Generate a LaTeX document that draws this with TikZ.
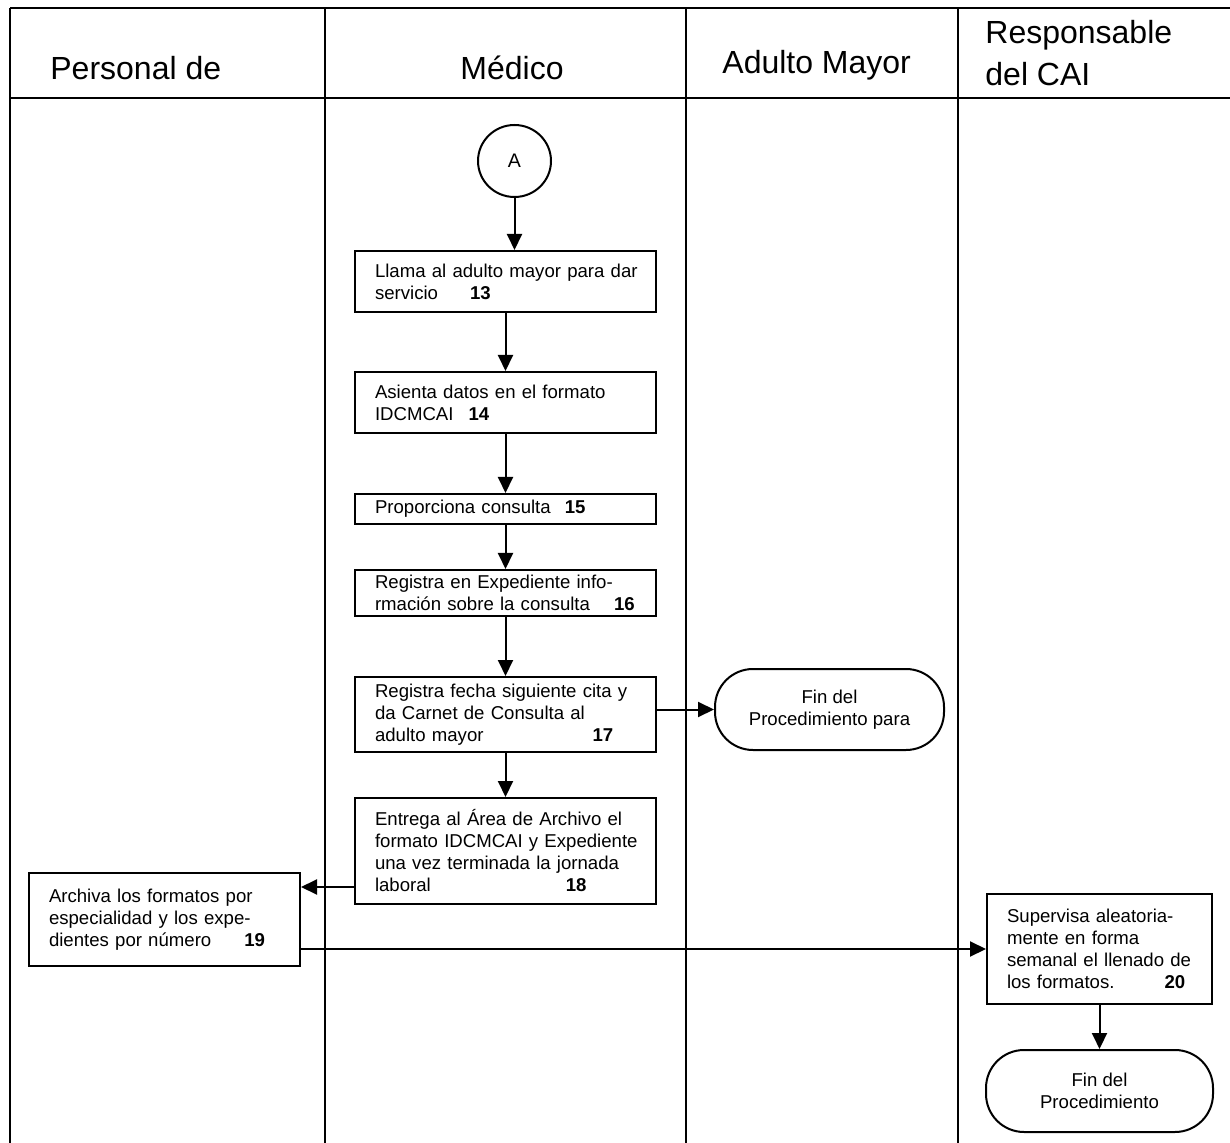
\documentclass[tikz,border=0pt]{standalone}
\usepackage{fontspec}
\setmainfont{Liberation Sans}
\usetikzlibrary{arrows.meta,shapes.geometric}
\begin{document}
\begin{tikzpicture}[x=0.5pt,y=-0.5pt,
  lane/.style={line width=0.9pt},
  head/.style={font=\fontsize{16}{21}\selectfont, inner sep=0pt, anchor=base west, align=left},
  proc/.style={draw, line width=1pt, rectangle, inner xsep=10pt, inner ysep=0pt,
    align=left, font=\fontsize{9.3}{11}\selectfont},
  term/.style={draw, line width=1pt, rectangle, rounded corners=19pt, align=center,
    font=\fontsize{9.3}{11}\selectfont},
  conn/.style={draw, ellipse, line width=1pt, font=\fontsize{9.8}{11}\selectfont},
  arr/.style={line width=1pt, -{Triangle[length=8pt,width=7.5pt]}}]
\useasboundingbox (0,0) rectangle (1230,1143);
% swimlane grid
\draw[lane] (10,8) -- (1230,8);
\draw[lane] (10,98) -- (1230,98);
\draw[lane] (10,8) -- (10,1143);
\draw[lane] (325,8) -- (325,1143);
\draw[lane] (686,8) -- (686,1143);
\draw[lane] (958,8) -- (958,1143);
% headers
\node[head] (h1) at (50,80) {Personal de};
\node[head] (h2) at (460,80) {Médico};
\node[head] (h3) at (722,74) {Adulto Mayor};
\node[head] (h4) at (985,86) {Responsable\\del CAI};
% nodes
\node[conn, minimum width=36.5pt, minimum height=36pt] (A) at (514.5,161) {A};
\node[proc, minimum width=150.5pt, minimum height=30.5pt, text width=130.5pt] (b13) at (505.5,281.5)
  {\mbox{Llama al adulto mayor para dar}\\servicio\hspace{16pt}\textbf{13}};
\node[proc, minimum width=150.5pt, minimum height=30.5pt, text width=130.5pt] (b14) at (505.5,402.5)
  {Asienta datos en el formato\\IDCMCAI\hspace{7.5pt}\textbf{14}};
\node[proc, minimum width=150.5pt, minimum height=15pt, text width=130.5pt] (b15) at (505.5,509)
  {\mbox{Proporciona consulta\hspace{7pt}\textbf{15}}};
\node[proc, minimum width=150.5pt, minimum height=23pt, text width=130.5pt] (b16) at (505.5,593)
  {\mbox{Registra en Expediente info-}\\\mbox{rmación sobre la consulta\hspace{12pt}\textbf{16}}};
\node[proc, minimum width=150.5pt, minimum height=37.5pt, text width=130.5pt] (b17) at (505.5,714.5)
  {Registra fecha siguiente cita y\\da Carnet de Consulta al\\\mbox{adulto mayor\hspace{54.5pt}\textbf{17}}};
\node[proc, minimum width=150.5pt, minimum height=53pt, text width=130.5pt] (b18) at (505.5,851)
  {\mbox{Entrega al Área de Archivo el}\\\mbox{formato IDCMCAI y Expediente}\\\mbox{una vez terminada la jornada}\\\mbox{laboral\hspace{67.5pt}\textbf{18}}};
\node[proc, minimum width=135.5pt, minimum height=46.5pt, text width=115.5pt] (b19) at (164.5,919.5)
  {\mbox{Archiva los formatos por}\\\mbox{especialidad y los expe-}\\\mbox{dientes por número\hspace{16.5pt}\textbf{19}}};
\node[proc, minimum width=112.5pt, minimum height=55pt, text width=92.5pt] (b20) at (1099.5,949)
  {\mbox{Supervisa aleatoria-}\\\mbox{mente en forma}\\\mbox{semanal el llenado de}\\\mbox{los formatos.\hspace{25pt}\textbf{20}}};
\node[term, minimum width=114.5pt, minimum height=40.5pt] (fin1) at (829.5,709.5)
  {Fin del\\Procedimiento para};
\node[term, minimum width=113.5pt, minimum height=41pt] (fin2) at (1099.5,1091)
  {Fin del\\Procedimiento};
% connectors
\draw[arr] (A.south) -- (A.south |- b13.north);
\draw[arr] (b13) -- (b14);
\draw[arr] (b14) -- (b15);
\draw[arr] (b15) -- (b16);
\draw[arr] (b16) -- (b17);
\draw[arr] (b17) -- (b18);
\draw[arr] (b17.east |- fin1.west) -- (fin1.west);
\draw[arr] (b18.west |- 0,887) -- (b19.east |- 0,887);
\draw[arr] (b19.east |- b20.west) -- (b20.west);
\draw[arr] (b20) -- (fin2);
\end{tikzpicture}
\end{document}
